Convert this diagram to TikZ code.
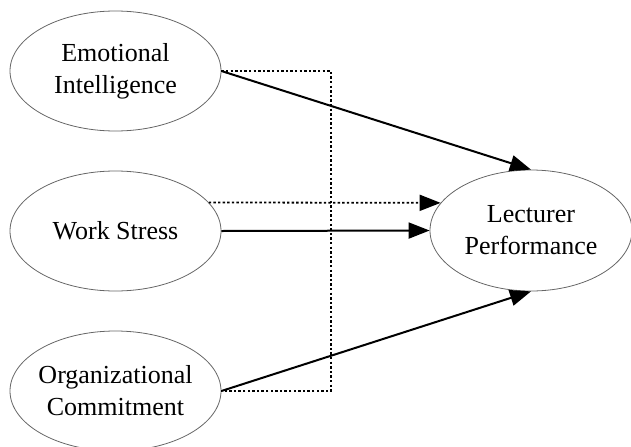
\documentclass[tikz,border=0pt]{standalone}
\usepackage{fontspec}
\setmainfont{Liberation Serif}
\usetikzlibrary{shapes.geometric,arrows.meta}

\begin{document}
\begin{tikzpicture}[x=0.5pt, y=0.5pt,
    construct/.style={ellipse, draw=black!60, line width=0.4pt,
        inner xsep=-10pt, inner ysep=0pt,
        minimum width=105.5pt, minimum height=60pt, align=center,
        font=\fontsize{13}{16}\selectfont},
    path/.style={line width=1pt, -{Triangle[length=10.5pt, width=8pt]}},
    moderate/.style={line width=0.9pt, dash pattern=on 1.2pt off 1.1pt}]

    \useasboundingbox (0,0) rectangle (631,446);

    % Constructs
    \node[construct] (EI) at (115.5,375) {Emotional\\Intelligence};
    \node[construct] (WS) at (115.5,215) {Work Stress};
    \node[construct] (OC) at (115.5,55) {Organizational\\Commitment};
    \node[construct, minimum width=101pt, minimum height=60.5pt] (LP) at (531,215.5) {Lecturer\\Performance};

    % Dotted Link
    \coordinate (corner) at (331,55);
    \draw[moderate] (EI.east) -| (corner) -- (OC.east);

    % Direct Paths
    \draw[path] (EI.east) -- (LP.north);
    \draw[path] (WS.east) -- (LP.west);
    \draw[path] (OC.east) -- (LP.south);

    % Moderated Path
    \draw[path, moderate] (WS.17) -- (LP.163);

\end{tikzpicture}
\end{document}
